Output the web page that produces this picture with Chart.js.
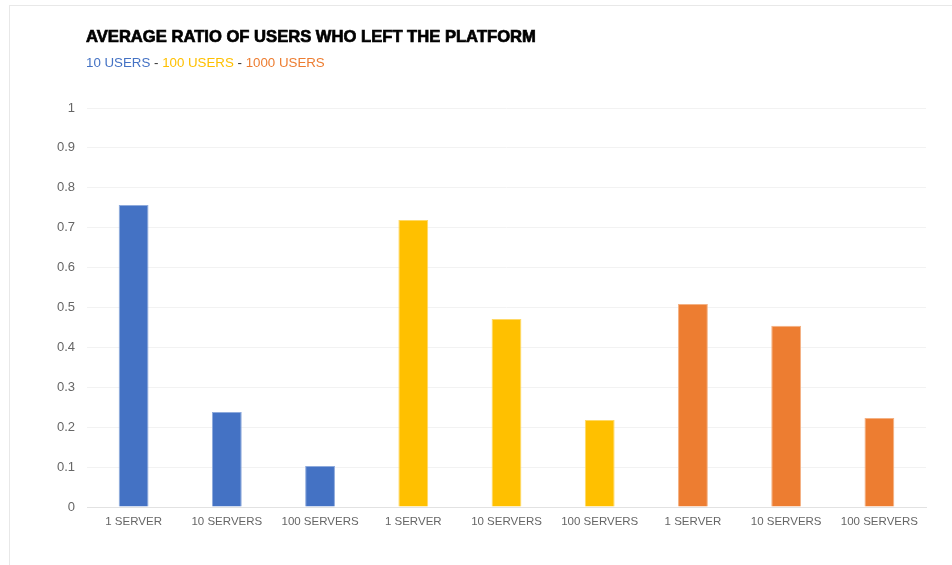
<!DOCTYPE html>
<html>
<head>
<meta charset="utf-8">
<script src="https://cdn.jsdelivr.net/npm/chart.js@4/dist/chart.umd.min.js"></script>
<style>
  html, body { margin: 0; padding: 0; background: #fff; }
  body { width: 952px; height: 565px; position: relative; overflow: hidden; font-family: "Liberation Sans", Arial, sans-serif; }
  .frame { position: absolute; left: 9px; top: 5px; right: -2px; bottom: -2px; border-left: 1px solid #e8e8e8; border-top: 1px solid #e8e8e8; }
  .wrap { position: absolute; left: 0; top: 0; width: 952px; height: 565px; }
  #title { position: absolute; left: 86px; top: 27px; font-size: 16.6px; font-weight: bold; color: #000; -webkit-text-stroke: 0.7px #000; white-space: nowrap; }
  #subtitle { position: absolute; left: 86px; top: 55px; font-size: 13.3px; color: #333; white-space: nowrap; }
</style>
</head>
<body>
<div class="frame"></div>
<div class="wrap"><canvas id="chart"></canvas></div>
<div id="title">AVERAGE RATIO OF USERS WHO LEFT THE PLATFORM</div>
<div id="subtitle"></div>
<script>
// categorías y valores
const labels = ['1 SERVER', '10 SERVERS', '100 SERVERS', '1 SERVER', '10 SERVERS', '100 SERVERS', '1 SERVER', '10 SERVERS', '100 SERVERS'];
const values = [0.757, 0.238, 0.103, 0.719, 0.471, 0.218, 0.509, 0.454, 0.223];
const groups = ['10 USERS', '100 USERS', '1000 USERS'];
const groupColors = ['#4472C4', '#FFC000', '#ED7D31'];
const groupBorders = ['#8eaadc', '#ffd966', '#f4b183'];
const yTicks = [0, 0.1, 0.2, 0.3, 0.4, 0.5, 0.6, 0.7, 0.8, 0.9, 1];

// leyenda de texto en colores
const sub = document.getElementById('subtitle');
groups.forEach((g, i) => {
    if (i > 0) sub.appendChild(document.createTextNode(' - '));
    const s = document.createElement('span');
    s.textContent = g;
    s.style.color = groupColors[i];
    sub.appendChild(s);
});

const groupOf = (idx) => Math.floor(idx / 3);

new Chart(document.getElementById('chart').getContext('2d'), {
    type: 'bar',
    data: {
        labels,
        datasets: [{
            data: values,
            backgroundColor: values.map((v, i) => groupColors[groupOf(i)]),
            borderColor: values.map((v, i) => groupBorders[groupOf(i)]),
            borderWidth: 1,
            barPercentage: 0.32,
            categoryPercentage: 1
        }]
    },
    options: {
        responsive: true, maintainAspectRatio: false, animation: false,
        layout: { padding: { top: 108, right: 26, left: 0, bottom: 28 } },
        plugins: { legend: { display: false }, tooltip: { enabled: false } },
        scales: {
            x: {
                grid: { display: false, drawTicks: false },
                border: { color: '#e2e2e2' },
                ticks: { color: '#666', padding: 8, maxRotation: 0, autoSkip: false, font: { family: 'Liberation Sans', size: 11.5 } },
                afterFit: (s) => { s.height = 30; }
            },
            y: {
                min: 0, max: 1,
                afterBuildTicks: (s) => { s.ticks = yTicks.map(v => ({ value: v })); },
                grid: { color: '#f2f2f2', drawTicks: false },
                border: { display: false },
                ticks: { color: '#666', padding: 12, font: { family: 'Liberation Sans', size: 13 }, callback: (v) => String(v) },
                afterFit: (s) => { s.width = 87; }
            }
        }
    }
});
</script>
</body>
</html>
